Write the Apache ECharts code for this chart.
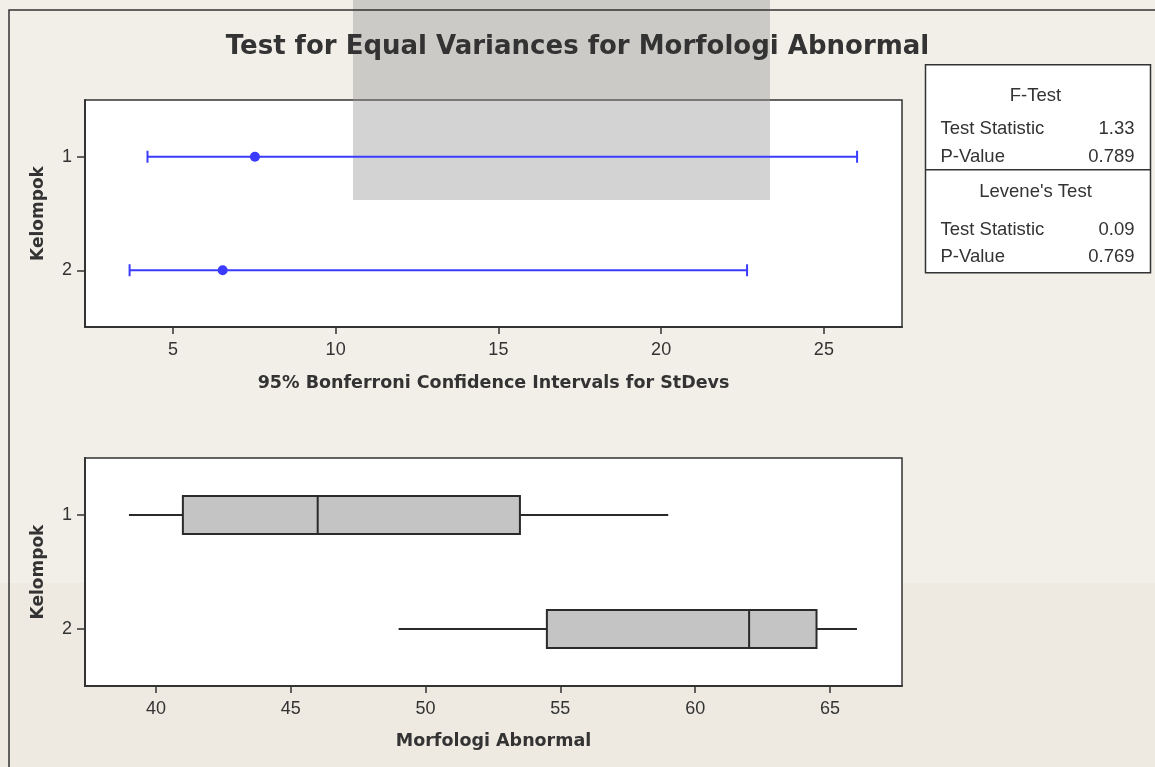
<!DOCTYPE html>
<html>
<head>
<meta charset="utf-8">
<script src="https://cdn.jsdelivr.net/npm/echarts@6/dist/echarts.min.js"></script>
<style>
html,body{margin:0;padding:0;background:#f2efe9;}
#chart{width:1155px;height:767px;}
</style>
</head>
<body>
<div id="chart"></div>
<script>
// ---- data ----
const groups = ['1', '2'];
// 95% Bonferroni confidence intervals for StDevs
const ciLower = [4.22, 3.67];
const ciSigma = [7.52, 6.53];
const ciUpper = [26.02, 22.64];
// Boxplot of Morfologi Abnormal
const boxMin = [39, 49];
const boxQ1 = [41, 54.5];
const boxMedian = [46, 62];
const boxQ3 = [53.5, 64.5];
const boxMax = [59, 66];
// tick labels
const ciTicks = [5, 10, 15, 20, 25];
const boxTicks = [40, 45, 50, 55, 60, 65];
// test results
const fTestStatistic = '1.33';
const fTestPValue = '0.789';
const leveneStatistic = '0.09';
const levenePValue = '0.769';

const titleText = 'Test for Equal Variances for Morfologi Abnormal';
const ciAxisName = '95% Bonferroni Confidence Intervals for StDevs';
const boxAxisName = 'Morfologi Abnormal';
const yName = 'Kelompok';

const ciData = groups.map((g, i) => [ciLower[i], ciUpper[i], i]);
const dotData = groups.map((g, i) => [ciSigma[i], i]);
const boxData = groups.map((g, i) => [i, boxMin[i], boxQ1[i], boxMedian[i], boxQ3[i], boxMax[i]]);

const FONT = '"Liberation Sans", Arial, sans-serif';
const BOLD = '"DejaVu Sans", Verdana, sans-serif';
const INK = '#333';
const BLUE = '#3b3bff';
const TS = 18.5;

const chart = echarts.init(document.getElementById('chart'));

function xAxisCfg(gridIndex, min, max, ticks, name, gap) {
  return {
    type: 'value', gridIndex, min, max,
    name, nameLocation: 'middle', nameGap: gap,
    nameTextStyle: {fontFamily: BOLD, fontWeight: 'bold', fontSize: 17.5, color: INK},
    splitLine: {show: false},
    axisLine: {show: true, lineStyle: {color: INK, width: 2}},
    axisTick: {show: true, length: 7, lineStyle: {color: INK, width: 1.5}, customValues: ticks},
    axisLabel: {fontFamily: FONT, fontSize: 18, color: INK, margin: 14, customValues: ticks}
  };
}
function yAxisCfg(gridIndex) {
  return {
    type: 'category', gridIndex, data: groups, inverse: true,
    name: yName, nameLocation: 'middle', nameGap: 38, nameRotate: 90,
    nameTextStyle: {fontFamily: BOLD, fontWeight: 'bold', fontSize: 17, color: INK},
    axisLine: {show: true, lineStyle: {color: INK, width: 2}},
    axisTick: {show: true, alignWithLabel: true, length: 8, lineStyle: {color: INK, width: 1.5}},
    axisLabel: {fontFamily: FONT, fontSize: 18, color: INK, margin: 13},
    splitLine: {show: false}
  };
}

const option = {
  backgroundColor: '#f2efe9',
  animation: false,
  title: {
    text: titleText, left: 'center', top: 29,
    textStyle: {fontFamily: BOLD, fontWeight: 'bold', fontSize: 26, color: INK}
  },
  grid: [
    {left: 85, top: 100, width: 817, height: 227, show: true, backgroundColor: '#fff', borderColor: INK, borderWidth: 1.5},
    {left: 85, top: 458, width: 817, height: 228, show: true, backgroundColor: '#fff', borderColor: INK, borderWidth: 1.5}
  ],
  xAxis: [
    xAxisCfg(0, 2.3, 27.4, ciTicks, ciAxisName, 47),
    xAxisCfg(1, 37.37, 67.67, boxTicks, boxAxisName, 46)
  ],
  yAxis: [yAxisCfg(0), yAxisCfg(1)],
  graphic: [
    {type: 'rect', z: -10, silent: true, shape: {x: 0, y: 583, width: 1155, height: 200}, style: {fill: '#eeeae1'}},
    {type: 'rect', z: 2, silent: true, shape: {x: 9, y: 10, width: 1170, height: 780}, style: {fill: 'none', stroke: INK, lineWidth: 1.5}},
    {
      type: 'group', left: 923, top: 64, z: 10,
      children: [
        {type: 'rect', shape: {x: 0, y: 0, width: 225, height: 208}, style: {fill: '#fff', stroke: INK, lineWidth: 1.5}},
        {type: 'line', shape: {x1: 0, y1: 105, x2: 225, y2: 105}, style: {stroke: INK, lineWidth: 1.5}},
        {type: 'text', x: 110, y: 31, style: {text: 'F-Test', align: 'center', verticalAlign: 'middle', fontFamily: FONT, fontSize: TS, fill: INK}},
        {type: 'text', x: 15, y: 64, style: {text: 'Test Statistic', align: 'left', verticalAlign: 'middle', fontFamily: FONT, fontSize: TS, fill: INK}},
        {type: 'text', x: 209, y: 64, style: {text: fTestStatistic, align: 'right', verticalAlign: 'middle', fontFamily: FONT, fontSize: TS, fill: INK}},
        {type: 'text', x: 15, y: 92, style: {text: 'P-Value', align: 'left', verticalAlign: 'middle', fontFamily: FONT, fontSize: TS, fill: INK}},
        {type: 'text', x: 209, y: 92, style: {text: fTestPValue, align: 'right', verticalAlign: 'middle', fontFamily: FONT, fontSize: TS, fill: INK}},
        {type: 'text', x: 110, y: 127, style: {text: "Levene's Test", align: 'center', verticalAlign: 'middle', fontFamily: FONT, fontSize: TS, fill: INK}},
        {type: 'text', x: 15, y: 165, style: {text: 'Test Statistic', align: 'left', verticalAlign: 'middle', fontFamily: FONT, fontSize: TS, fill: INK}},
        {type: 'text', x: 209, y: 165, style: {text: leveneStatistic, align: 'right', verticalAlign: 'middle', fontFamily: FONT, fontSize: TS, fill: INK}},
        {type: 'text', x: 15, y: 192, style: {text: 'P-Value', align: 'left', verticalAlign: 'middle', fontFamily: FONT, fontSize: TS, fill: INK}},
        {type: 'text', x: 209, y: 192, style: {text: levenePValue, align: 'right', verticalAlign: 'middle', fontFamily: FONT, fontSize: TS, fill: INK}}
      ]
    },
    {type: 'rect', z: 1, silent: true, shape: {x: 353, y: 0, width: 417, height: 200}, style: {fill: 'rgba(150,150,150,0.42)'}}
  ],
  series: [
    {
      type: 'custom', name: 'CI', xAxisIndex: 0, yAxisIndex: 0, clip: false,
      data: ciData, encode: {x: [0, 1], y: 2},
      renderItem(params, api) {
        const lo = api.coord([api.value(0), api.value(2)]);
        const hi = api.coord([api.value(1), api.value(2)]);
        const s = {stroke: BLUE, lineWidth: 2};
        return {type: 'group', children: [
          {type: 'line', shape: {x1: lo[0], y1: lo[1], x2: hi[0], y2: hi[1]}, style: s},
          {type: 'line', shape: {x1: lo[0], y1: lo[1] - 6, x2: lo[0], y2: lo[1] + 6}, style: s},
          {type: 'line', shape: {x1: hi[0], y1: hi[1] - 6, x2: hi[0], y2: hi[1] + 6}, style: s}
        ]};
      }
    },
    {
      type: 'scatter', name: 'StDev', xAxisIndex: 0, yAxisIndex: 0,
      data: dotData, symbol: 'circle', symbolSize: 10,
      itemStyle: {color: BLUE, opacity: 1}
    },
    {
      type: 'custom', name: 'Boxplot', xAxisIndex: 1, yAxisIndex: 1, clip: false,
      data: boxData, encode: {x: [1, 2, 3, 4, 5], y: 0},
      renderItem(params, api) {
        const c = api.value(0);
        const pMin = api.coord([api.value(1), c]);
        const pQ1 = api.coord([api.value(2), c]);
        const pMed = api.coord([api.value(3), c]);
        const pQ3 = api.coord([api.value(4), c]);
        const pMax = api.coord([api.value(5), c]);
        const h = 19;
        const s = {stroke: '#2a2a2a', lineWidth: 2};
        return {type: 'group', children: [
          {type: 'line', shape: {x1: pMin[0], y1: pMin[1], x2: pQ1[0], y2: pQ1[1]}, style: s},
          {type: 'line', shape: {x1: pQ3[0], y1: pQ3[1], x2: pMax[0], y2: pMax[1]}, style: s},
          {type: 'rect', shape: {x: pQ1[0], y: pQ1[1] - h, width: pQ3[0] - pQ1[0], height: 2 * h}, style: {fill: '#c4c4c4', stroke: '#2a2a2a', lineWidth: 2}},
          {type: 'line', shape: {x1: pMed[0], y1: pMed[1] - h, x2: pMed[0], y2: pMed[1] + h}, style: s}
        ]};
      }
    }
  ]
};
chart.setOption(option);
</script>
</body>
</html>
